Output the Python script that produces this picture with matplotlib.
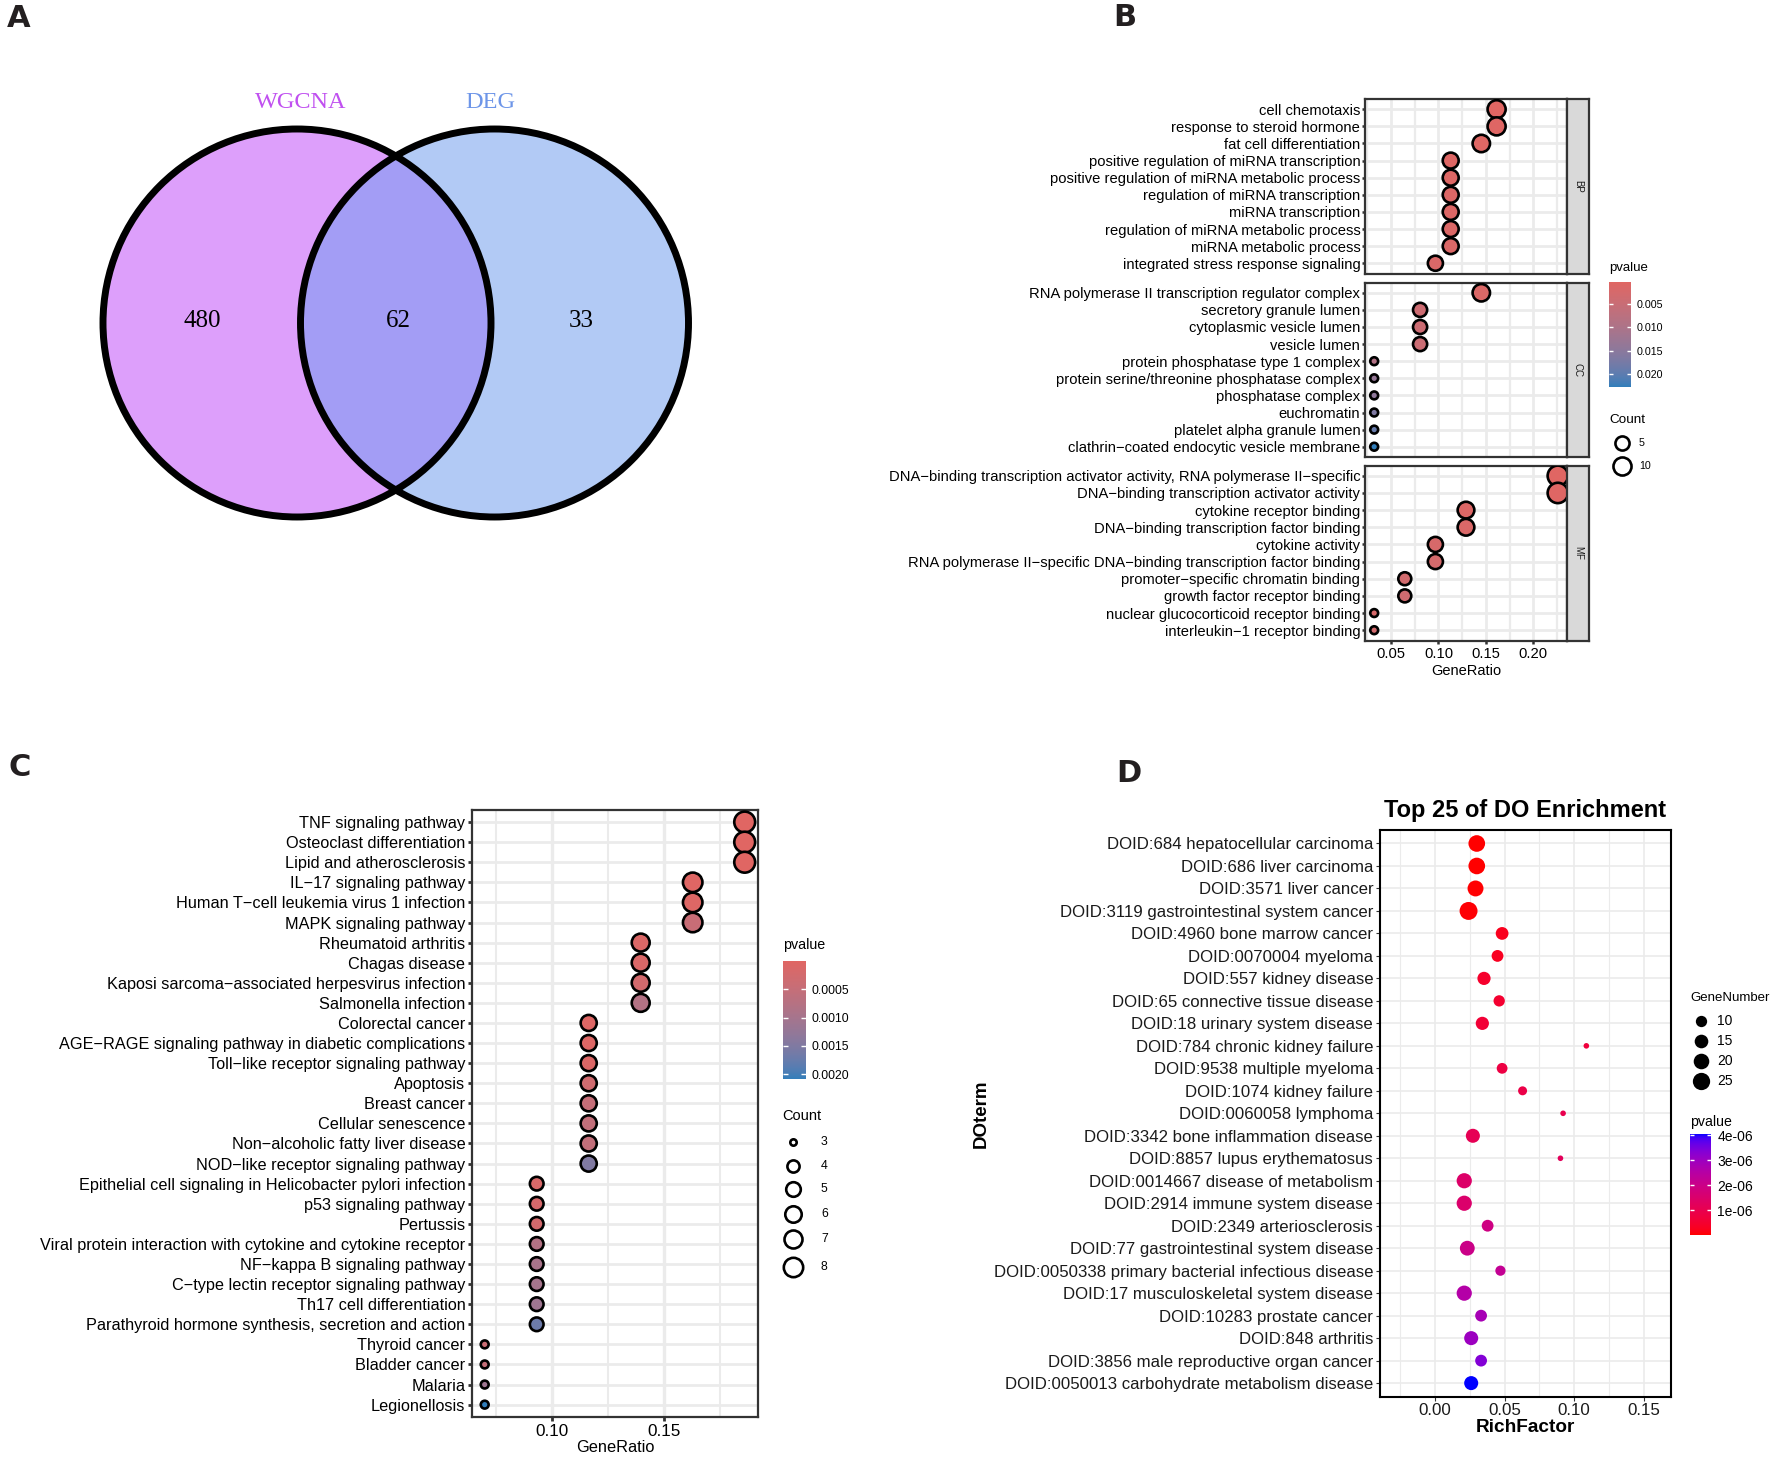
import numpy as np
import matplotlib
matplotlib.use("Agg")
import matplotlib.pyplot as plt
from matplotlib.colors import ListedColormap, Normalize, to_rgb
from matplotlib.patches import Circle
from matplotlib.cm import ScalarMappable

plt.rcParams["font.family"] = ["Liberation Sans", "DejaVu Sans"]

W, H, DPI = 1774, 1459, 100
EDGE = 1.9  # outline width of the dots, pt

# ---------------- data ----------------
# A: Venn
venn_names = ["WGCNA", "DEG"]
venn_counts = [480, 62, 33]          # WGCNA only, both, DEG only

# B: GO enrichment (GeneRatio = Count / 62)
go_total = 62
bp_terms = ["cell chemotaxis", "response to steroid hormone", "fat cell differentiation",
            "positive regulation of miRNA transcription",
            "positive regulation of miRNA metabolic process",
            "regulation of miRNA transcription", "miRNA transcription",
            "regulation of miRNA metabolic process", "miRNA metabolic process",
            "integrated stress response signaling"]
bp_count = [10, 10, 9, 7, 7, 7, 7, 7, 7, 6]
bp_p = [0.0001, 0.0003, 0.0005, 0.0006, 0.0008, 0.0009, 0.0010, 0.0011, 0.0013, 0.0015]

cc_terms = ["RNA polymerase II transcription regulator complex", "secretory granule lumen",
            "cytoplasmic vesicle lumen", "vesicle lumen", "protein phosphatase type 1 complex",
            "protein serine/threonine phosphatase complex", "phosphatase complex",
            "euchromatin", "platelet alpha granule lumen",
            "clathrin-coated endocytic vesicle membrane"]
cc_count = [9, 5, 5, 5, 2, 2, 2, 2, 2, 2]
cc_p = [0.0012, 0.0040, 0.0042, 0.0045, 0.0090, 0.0135, 0.0145, 0.0165, 0.0190, 0.0228]

mf_terms = ["DNA-binding transcription activator activity, RNA polymerase II-specific",
            "DNA-binding transcription activator activity", "cytokine receptor binding",
            "DNA-binding transcription factor binding", "cytokine activity",
            "RNA polymerase II-specific DNA-binding transcription factor binding",
            "promoter-specific chromatin binding", "growth factor receptor binding",
            "nuclear glucocorticoid receptor binding", "interleukin-1 receptor binding"]
mf_count = [14, 14, 8, 8, 6, 6, 4, 4, 2, 2]
mf_p = [0.0002, 0.0003, 0.0010, 0.0015, 0.0020, 0.0025, 0.0030, 0.0035, 0.0020, 0.0030]

go_facets = ["BP", "CC", "MF"]

# C: KEGG enrichment (GeneRatio = Count / 43)
kegg_total = 43
kegg_terms = ["TNF signaling pathway", "Osteoclast differentiation", "Lipid and atherosclerosis",
              "IL-17 signaling pathway", "Human T-cell leukemia virus 1 infection",
              "MAPK signaling pathway", "Rheumatoid arthritis", "Chagas disease",
              "Kaposi sarcoma-associated herpesvirus infection", "Salmonella infection",
              "Colorectal cancer", "AGE-RAGE signaling pathway in diabetic complications",
              "Toll-like receptor signaling pathway", "Apoptosis", "Breast cancer",
              "Cellular senescence", "Non-alcoholic fatty liver disease",
              "NOD-like receptor signaling pathway",
              "Epithelial cell signaling in Helicobacter pylori infection",
              "p53 signaling pathway", "Pertussis",
              "Viral protein interaction with cytokine and cytokine receptor",
              "NF-kappa B signaling pathway", "C-type lectin receptor signaling pathway",
              "Th17 cell differentiation", "Parathyroid hormone synthesis, secretion and action",
              "Thyroid cancer", "Bladder cancer", "Malaria", "Legionellosis"]
kegg_count = [8, 8, 8, 7, 7, 7, 6, 6, 6, 6, 5, 5, 5, 5, 5, 5, 5, 5,
              4, 4, 4, 4, 4, 4, 4, 4, 3, 3, 3, 3]
kegg_p = [0.000002, 0.000005, 0.00001, 0.00003, 0.00006, 0.00045, 0.0001, 0.00012,
          0.00025, 0.0008, 0.00005, 0.00006, 0.00008, 0.0003, 0.0005, 0.00055, 0.00055,
          0.0015, 0.00015, 0.0002, 0.00025, 0.0008, 0.00095, 0.001, 0.0011, 0.0017,
          0.0004, 0.0005, 0.0011, 0.00208]

# D: DO enrichment
do_terms = ["DOID:684 hepatocellular carcinoma", "DOID:686 liver carcinoma",
            "DOID:3571 liver cancer", "DOID:3119 gastrointestinal system cancer",
            "DOID:4960 bone marrow cancer", "DOID:0070004 myeloma", "DOID:557 kidney disease",
            "DOID:65 connective tissue disease", "DOID:18 urinary system disease",
            "DOID:784 chronic kidney failure", "DOID:9538 multiple myeloma",
            "DOID:1074 kidney failure", "DOID:0060058 lymphoma",
            "DOID:3342 bone inflammation disease", "DOID:8857 lupus erythematosus",
            "DOID:0014667 disease of metabolism", "DOID:2914 immune system disease",
            "DOID:2349 arteriosclerosis", "DOID:77 gastrointestinal system disease",
            "DOID:0050338 primary bacterial infectious disease",
            "DOID:17 musculoskeletal system disease", "DOID:10283 prostate cancer",
            "DOID:848 arthritis", "DOID:3856 male reproductive organ cancer",
            "DOID:0050013 carbohydrate metabolism disease"]
do_rich = [0.0300, 0.0300, 0.0291, 0.0241, 0.0482, 0.0449, 0.0352, 0.0461, 0.0340, 0.1087,
           0.0482, 0.0629, 0.0920, 0.0272, 0.0901, 0.0210, 0.0210, 0.0378, 0.0232, 0.0470,
           0.0210, 0.0331, 0.0260, 0.0331, 0.0260]
do_genes = [23, 23, 21, 27, 13, 11, 14, 10, 14, 2, 9, 6, 2, 16, 2, 19, 19, 11, 18, 8,
            19, 11, 16, 11, 16]
do_p = [1e-8, 2e-8, 3e-8, 5e-8, 2.5e-7, 3e-7, 4.5e-7, 5e-7, 6e-7, 7e-7, 8e-7, 9e-7, 1.0e-6,
        1.1e-6, 1.2e-6, 1.45e-6, 1.5e-6, 1.9e-6, 2.0e-6, 2.2e-6, 2.55e-6, 2.8e-6, 3.0e-6,
        3.35e-6, 4.04e-6]


# ---------------- helpers ----------------
M_XYZ = np.array([[0.4124564, 0.3575761, 0.1804375],
                  [0.2126729, 0.7151522, 0.0721750],
                  [0.0193339, 0.1191920, 0.9503041]])
WHITE = np.array([0.95047, 1.0, 1.08883])


def to_lab(rgb):
    rgb = np.asarray(rgb, float)
    lin = np.where(rgb <= 0.04045, rgb / 12.92, ((rgb + 0.055) / 1.055) ** 2.4)
    xyz = lin @ M_XYZ.T / WHITE
    f = np.where(xyz > (6 / 29) ** 3, np.cbrt(xyz), xyz / (3 * (6 / 29) ** 2) + 4 / 29)
    return np.array([116 * f[1] - 16, 500 * (f[0] - f[1]), 200 * (f[1] - f[2])])


def from_lab(lab):
    fy = (lab[:, 0] + 16) / 116
    f = np.stack([fy + lab[:, 1] / 500, fy, fy - lab[:, 2] / 200], -1)
    xyz = np.where(f > 6 / 29, f ** 3, 3 * (6 / 29) ** 2 * (f - 4 / 29)) * WHITE
    lin = np.clip(xyz @ np.linalg.inv(M_XYZ).T, 0, 1)
    rgb = np.where(lin <= 0.0031308, 12.92 * lin, 1.055 * lin ** (1 / 2.4) - 0.055)
    return np.clip(rgb, 0, 1)


def lab_cmap(lo, hi, n=256):
    a, b = to_lab(to_rgb(lo)), to_lab(to_rgb(hi))
    t = np.linspace(0, 1, n)[:, None]
    return ListedColormap(from_lab(a + (b - a) * t))


def px2pt2(d_px):
    return (np.asarray(d_px, float) * 72 / DPI) ** 2


def minus(s):
    return s.replace("-", "\u2212")


fig = plt.figure(figsize=(W / DPI, H / DPI), dpi=DPI)
ov = fig.add_axes([0, 0, 1, 1])
ov.set_xlim(0, W)
ov.set_ylim(H, 0)
ov.axis("off")


def box(l, t, r, b):
    return fig.add_axes([l / W, 1 - b / H, (r - l) / W, (b - t) / H])


def colorbar(l, t, r, b, cmap, vmin, vmax, ticks, labels, fs, reverse):
    cax = box(l, t, r, b)
    cb = fig.colorbar(ScalarMappable(Normalize(vmin, vmax), cmap), cax=cax)
    cb.outline.set_visible(False)
    cb.set_ticks(ticks)
    cb.set_ticklabels(labels)
    cax.yaxis.set_ticks_position("both")
    cax.tick_params(axis="y", direction="in", color="white", length=(r - l) * 0.72 / 5,
                    width=1, labelsize=fs, pad=4.5, labelright=True, labelleft=False)
    cax.minorticks_off()
    if reverse:
        cax.invert_yaxis()
    return cax


def size_legend(x, y0, values, diam, lab_x, fs, key_h, filled):
    y, prev = y0, None
    for v in values:
        d = diam(v)
        h = key_h(d)
        if prev is not None:
            y += (prev + h) / 2
        if filled:
            ov.scatter([x], [y], s=px2pt2(d), c="black", linewidths=0)
        else:
            ov.scatter([x], [y], s=px2pt2(d - EDGE / 0.72), facecolors="white",
                       edgecolors="black", linewidths=EDGE)
        ov.text(lab_x, y, str(v), fontsize=fs, va="center", ha="left")
        prev = h


# ---------------- panel letters ----------------
for letter, lx, ly in [("A", 19, 18.5), ("B", 1125, 17), ("C", 19.5, 767.5), ("D", 1129, 773)]:
    ov.text(lx, ly, letter, fontsize=22, fontweight="bold", family="DejaVu Sans",
            ha="center", va="center", color="#231F20")

# ---------------- A: Venn ----------------
va = box(0, 40, 880, 700)
va.set_xlim(0, 880)
va.set_ylim(700, 40)
va.axis("off")
cl, cr, rad = (297, 323), (494.5, 323), 194
c_left = Circle(cl, rad, facecolor="#DD9FFB", edgecolor="none")
c_right = Circle(cr, rad, facecolor="#B2CAF5", edgecolor="none")
va.add_patch(c_left)
va.add_patch(c_right)
c_mid = Circle(cl, rad, facecolor="#A39DF5", edgecolor="none")
va.add_patch(c_mid)
c_mid.set_clip_path(c_right)
for c in (cl, cr):
    va.add_patch(Circle(c, rad, facecolor="none", edgecolor="black", lw=5))
va.text(301, 103, venn_names[0], family="Liberation Serif", fontsize=17.5,
        color="#C050F0", ha="center", va="center")
va.text(490, 103, venn_names[1], family="Liberation Serif", fontsize=17.5,
        color="#6D95E8", ha="center", va="center")
for xv, val in zip([202, 398, 581], venn_counts):
    va.text(xv, 321, str(val), family="Liberation Serif", fontsize=18,
            ha="center", va="center")

# ---------------- B: GO dotplot ----------------
cmap_bc = lab_cmap("#E06663", "#327EBA")
go_counts_all = bp_count + cc_count + mf_count
go_p_all = bp_p + cc_p + mf_p
cmin_b, cmax_b = min(go_counts_all), max(go_counts_all)
pmin_b, pmax_b = min(go_p_all), max(go_p_all)
r_all = np.array(go_counts_all) / go_total
span = r_all.max() - r_all.min()
xlim_b = (r_all.min() - 0.05 * span, r_all.max() + 0.05 * span)


def diam_b(c):
    return 10.5 + 12.5 * np.sqrt((np.asarray(c, float) - cmin_b) / (cmax_b - cmin_b))


facet_boxes = [(99, 273.5), (282.5, 457), (465.5, 640.5)]
for k, (terms, cnt, pv) in enumerate([(bp_terms, bp_count, bp_p),
                                      (cc_terms, cc_count, cc_p),
                                      (mf_terms, mf_count, mf_p)]):
    top, bot = facet_boxes[k]
    ax = box(1365, top, 1567, bot)
    n = len(terms)
    ys = np.arange(n)[::-1]
    ax.scatter(np.array(cnt) / go_total, ys, s=px2pt2(diam_b(cnt) - EDGE / 0.72),
               c=cmap_bc(Normalize(pmin_b, pmax_b)(pv)), edgecolors="black",
               linewidths=EDGE, zorder=3)
    ax.set_xlim(*xlim_b)
    ax.set_ylim(-0.6, n - 0.4)
    ax.set_yticks(ys)
    ax.set_yticklabels([minus(t) for t in terms], fontsize=10.6)
    ax.set_xticks([0.05, 0.10, 0.15, 0.20])
    ax.set_xticks([0.025, 0.075, 0.125, 0.175, 0.225], minor=True)
    ax.grid(which="major", color="#EBEBEB", lw=2.0)
    ax.grid(which="minor", axis="x", color="#EBEBEB", lw=1.6)
    ax.set_axisbelow(True)
    for sp in ax.spines.values():
        sp.set_color("#333333")
        sp.set_linewidth(1.6)
    ax.tick_params(axis="y", length=2.4, width=1.8, color="#333333", pad=1)
    ax.tick_params(which="minor", length=0)
    if k < 2:
        ax.tick_params(axis="x", which="both", length=0, labelbottom=False)
    else:
        ax.set_xticklabels(["0.05", "0.10", "0.15", "0.20"])
        ax.tick_params(axis="x", length=2.4, width=1.8, color="#333333", pad=2.5,
                       labelsize=10.6)
    st = box(1567, top, 1589, bot)
    st.set_facecolor("#D9D9D9")
    st.set_xticks([])
    st.set_yticks([])
    for sp in st.spines.values():
        sp.set_color("#333333")
        sp.set_linewidth(1.6)
    st.text(0.5, 0.5, go_facets[k], rotation=-90, fontsize=7, color="#1A1A1A",
            ha="center", va="center", transform=st.transAxes)

ov.text(1466, 671, "GeneRatio", fontsize=10.5, ha="center", va="center")
ov.text(1609, 268, "pvalue", fontsize=9.5, ha="left", va="center")
colorbar(1609, 281.7, 1630.7, 386.7, cmap_bc, pmin_b, pmax_b,
         [0.005, 0.010, 0.015, 0.020], ["0.005", "0.010", "0.015", "0.020"], 7.7, True)
ov.text(1609, 420, "Count", fontsize=9.7, ha="left", va="center")
size_legend(1621.7, 443.3, [5, 10], diam_b, 1639, 7.7, lambda d: d + 4, False)

# ---------------- C: KEGG dotplot ----------------
cmin_c, cmax_c = min(kegg_count), max(kegg_count)
pmin_c, pmax_c = min(kegg_p), max(kegg_p)
r_c = np.array(kegg_count) / kegg_total
span_c = r_c.max() - r_c.min()


def diam_c(c):
    return 10.5 + 13 * np.sqrt((np.asarray(c, float) - cmin_c) / (cmax_c - cmin_c))


axc = box(471.7, 810, 757.7, 1416.7)
n = len(kegg_terms)
ys = np.arange(n)[::-1]
axc.scatter(r_c, ys, s=px2pt2(diam_c(kegg_count) - EDGE / 0.72),
            c=cmap_bc(Normalize(pmin_c, pmax_c)(kegg_p)), edgecolors="black",
            linewidths=EDGE, zorder=3)
axc.set_xlim(r_c.min() - 0.05 * span_c, r_c.max() + 0.05 * span_c)
axc.set_ylim(-0.6, n - 0.4)
axc.set_yticks(ys)
axc.set_yticklabels([minus(t) for t in kegg_terms], fontsize=11.7)
axc.set_xticks([0.10, 0.15])
axc.set_xticklabels(["0.10", "0.15"])
axc.set_xticks([0.075, 0.125, 0.175], minor=True)
axc.grid(which="major", axis="x", color="#EBEBEB", lw=2.4)
axc.grid(which="minor", axis="x", color="#EBEBEB", lw=1.5)
axc.grid(which="major", axis="y", color="#EBEBEB", lw=2.0)
axc.set_axisbelow(True)
for sp in axc.spines.values():
    sp.set_color("#333333")
    sp.set_linewidth(1.6)
axc.tick_params(axis="y", length=3, width=2, color="#333333", pad=1.5)
axc.tick_params(axis="x", length=3, width=2, color="#333333", pad=2.2, labelsize=12.3)
axc.tick_params(which="minor", length=0)
ov.text(615, 1448, "GeneRatio", fontsize=11.8, ha="center", va="center")
ov.text(782.7, 945, "pvalue", fontsize=10.3, ha="left", va="center")
colorbar(782.7, 960.7, 805.7, 1079, cmap_bc, pmin_c, pmax_c,
         [0.0005, 0.0010, 0.0015, 0.0020], ["0.0005", "0.0010", "0.0015", "0.0020"],
         8.8, True)
ov.text(782.7, 1116, "Count", fontsize=10.5, ha="left", va="center")
size_legend(793.3, 1142.3, [3, 4, 5, 6, 7, 8], lambda c: diam_c(c) - 1.5, 821, 8.8,
            lambda d: max(d + 6, 23.5), False)

# ---------------- D: DO dotplot ----------------
cmap_d = lab_cmap("red", "blue")
pmin_d, pmax_d = min(do_p), max(do_p)


def diam_d(g):
    return 1 + 3.26 * np.sqrt(np.asarray(g, float))


axd = box(1380, 830, 1671, 1396.6)
n = len(do_terms)
ys = np.arange(n)[::-1]
axd.scatter(do_rich, ys, s=px2pt2(diam_d(do_genes)),
            c=cmap_d(Normalize(pmin_d, pmax_d)(do_p)), linewidths=0, zorder=3)
lim_lo, lim_hi = -0.03, 0.16
axd.set_xlim(lim_lo - 0.05 * (lim_hi - lim_lo), lim_hi + 0.05 * (lim_hi - lim_lo))
axd.set_ylim(-0.6, n - 0.4)
axd.set_yticks(ys)
axd.set_yticklabels(do_terms, fontsize=12.1, color="#1A1A1A")
axd.set_xticks([0.00, 0.05, 0.10, 0.15])
axd.set_xticklabels(["0.00", "0.05", "0.10", "0.15"])
axd.set_xticks([-0.025, 0.025, 0.075, 0.125], minor=True)
axd.grid(which="major", color="#EBEBEB", lw=1.2)
axd.grid(which="minor", axis="x", color="#EBEBEB", lw=0.8)
axd.set_axisbelow(True)
for sp in axd.spines.values():
    sp.set_color("black")
    sp.set_linewidth(1.5)
axd.tick_params(axis="both", length=2.9, width=0.8, color="#333333", pad=2,
                labelcolor="#1A1A1A")
axd.tick_params(axis="x", labelsize=12.2)
axd.tick_params(which="minor", length=0)
ov.text(1525.5, 811, "Top 25 of DO Enrichment", fontsize=17, fontweight="bold",
        ha="center", va="center")
ov.text(1525.5, 1428, "RichFactor", fontsize=13.7, fontweight="bold", ha="center",
        va="center")
ov.text(981, 1113.7, "DOterm", fontsize=13.5, fontweight="bold", rotation=90,
        ha="center", va="center")
ov.text(1690.7, 998, "GeneNumber", fontsize=9.5, ha="left", va="center")
size_legend(1701.3, 1020.7, [10, 15, 20, 25], diam_d, 1717.3, 10,
            lambda d: max(d + 3, 20.2), True)
ov.text(1690, 1121.7, "pvalue", fontsize=10.2, ha="left", va="center")
colorbar(1690, 1134, 1711, 1235, cmap_d, pmin_d, pmax_d,
         [1e-6, 2e-6, 3e-6, 4e-6], ["1e-06", "2e-06", "3e-06", "4e-06"], 10, False)

fig.savefig("out.png", dpi=DPI)
